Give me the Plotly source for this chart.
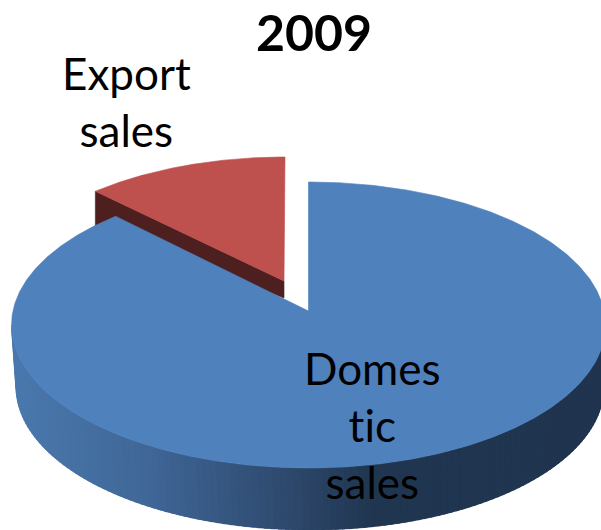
import numpy as np
import plotly.graph_objects as go

year = "2009"
categories = ["Domestic sales", "Export sales"]
shares = [88.75, 11.25]
label_text = ["Domes<br>tic<br>sales", "Export<br>sales"]

W, H = 601, 530
BLUE, RED, RED_DARK = "#4f81bd", "#be504e", "#4d1f1f"
export_angle = np.radians(360 * shares[1] / sum(shares))


def arc(cx, cy, rx, ry, a0, a1, n=240):
    t = np.linspace(a0, a1, n)
    return cx + rx * np.sin(t), cy - ry * np.cos(t)


def poly(x, y, color, name, width=0.6):
    return go.Scatter(x=list(x), y=list(y), mode="lines", fill="toself", fillcolor=color,
                      line=dict(color=color, width=width), name=name, hoverinfo="skip", showlegend=False)


fig = go.Figure()

# Export slice: cut face, then top
rx0, ry0 = arc(285, 300, 292, 143, -export_angle, 0)
fig.add_trace(poly([rx0[0], 284, 284, rx0[0], rx0[0]],
                   [ry0[0], 281, 298, ry0[0] + 36, ry0[0]], RED_DARK, categories[1]))
fig.add_trace(poly(np.r_[284, rx0, 284], np.r_[281, ry0, 281], RED, categories[1]))

# Domestic slice: outer wall as shaded overlapping strips
edges = np.linspace(np.pi / 2, 3 * np.pi / 2, 131)
step = edges[1] - edges[0]
for a0 in edges[:-1]:
    a1 = min(a0 + 2.5 * step, edges[-1])
    tx, ty = arc(308.5, 325, 297, 143, a0, a1, 6)
    bx, by = arc(310, 387, 294, 143, a1, a0, 6)
    xm = 308 + 297 * np.sin(a0 + step / 2)
    stops = [15, 150, 300, 370, 600]
    r = np.interp(xm, stops, [74, 63, 44, 32, 32])
    g = np.interp(xm, stops, [120, 102, 70, 54, 52])
    b = np.interp(xm, stops, [173, 150, 105, 80, 79])
    fig.add_trace(poly(np.r_[tx, bx, tx[0]], np.r_[ty, by, ty[0]],
                       f"rgb({r:.0f},{g:.0f},{b:.0f})", categories[0], 0.3))

# Domestic slice: top
bx0, by0 = arc(308.5, 325, 297, 143, 0, 2 * np.pi - export_angle, 600)
fig.add_trace(poly(np.r_[308.5, bx0, 308.5], np.r_[311, by0, 311], BLUE, categories[0]))

font = dict(family="Lato, Carlito, Calibri, sans-serif", color="#000000")
fig.add_annotation(x=372, y=425, text=label_text[0], showarrow=False,
                   font=dict(size=44, **font), align="center")
fig.add_annotation(x=126, y=101, text=label_text[1], showarrow=False,
                   font=dict(size=44, **font), align="center")

fig.update_layout(
    width=W, height=H, margin=dict(l=0, r=0, t=0, b=0),
    paper_bgcolor="white", plot_bgcolor="white", showlegend=False, hovermode=False,
    title=dict(text=f"<b>{year}</b>", x=314 / W, xanchor="center", y=1 - 33 / H, yanchor="middle",
               font=dict(size=50, family=font["family"], color="#000000")),
    xaxis=dict(range=[0, W], visible=False, fixedrange=True),
    yaxis=dict(range=[H, 0], visible=False, fixedrange=True),
)
page_css = ("var s=document.createElement('style');"
            "s.textContent='html,body{margin:0;padding:0;overflow:hidden}"
            "svg text{font-variant-ligatures:none;font-feature-settings:\"liga\" 0}';"
            "document.head.appendChild(s);")
fig.write_html("out.html", config=dict(displayModeBar=False), post_script=page_css)
